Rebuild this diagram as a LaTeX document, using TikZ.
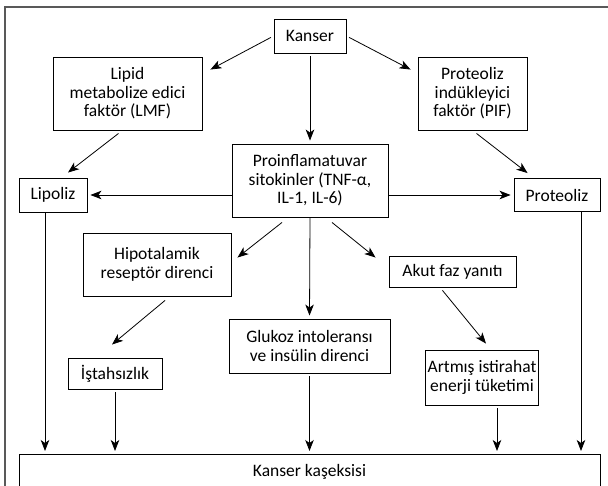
\documentclass[tikz,border=0pt]{standalone}
\usepackage{fontspec}
\setmainfont{Carlito}
\usetikzlibrary{arrows.meta}
\tikzset{>={Stealth[length=11pt,width=8.5pt,inset=3pt]}}
\colorlet{framecol}{black!65}
\tikzstyle{box}=[draw,line width=0.9pt,align=center,inner sep=2pt,font=\fontsize{17.5}{18.5}\selectfont]
\tikzstyle{link}=[->,line width=0.8pt]

\begin{document}
\begin{tikzpicture}[x=1pt,y=-1pt]
  \useasboundingbox (0,0) rectangle (608,486);
  \clip (0,0) rectangle (608,486);

  % outer frame
  \draw[framecol,line width=1.5pt] (5,490) -- (5,7) -- (610,7);

  % top row
  \node[box,minimum width=72pt,minimum height=34pt] (kanser) at (310,36) {Kanser};
  \node[box,minimum width=149pt,minimum height=73pt] (lmf) at (127.5,93.5)
    {Lipid\\metabolize edici\\faktör (LMF)};
  \node[box,minimum width=109pt,minimum height=73pt] (pif) at (472.5,93.5)
    {Proteoliz\\indükleyici\\faktör (PIF)};

  % middle row
  \node[box,minimum width=156pt,minimum height=73pt] (sito) at (310,180.5)
    {Proinflamatuvar\\sitokinler (TNF-α,\\IL-1, IL-6)};
  \node[box,minimum width=68pt,minimum height=34pt] (lipoliz) at (53,195) {Lipoliz};
  \node[box,minimum width=86pt,minimum height=33pt] (proteoliz) at (557,195) {Proteoliz};

  % effects
  \node[box,minimum width=148pt,minimum height=63pt] (hipo) at (157,264.5)
    {Hipotalamik\\reseptör direnci};
  \node[box,minimum width=127pt,minimum height=31pt] (akut) at (452.5,271.5) {Akut faz yanıtı};
  \node[box,minimum width=161pt,minimum height=54pt] (glukoz) at (309.5,346)
    {Glukoz intoleransı\\ve insülin direnci};
  \node[box,minimum width=94pt,minimum height=31pt] (istah) at (115,373.5) {İştahsızlık};
  \node[box,minimum width=108pt,minimum height=55pt] (artmis) at (482,377.5)
    {Artmış istirahat\\enerji tüketimi};

  % bottom box
  \node[box,anchor=north,minimum width=581pt,text height=20pt,text depth=30pt] (kaseksi)
    at (309.5,454) {Kanser kaşeksisi};

  % arrows from Kanser
  \draw[link,shorten <=3pt] (kanser.west) -- ([shift={(8,13)}]lmf.north east);
  \draw[link,shorten <=3pt] (kanser.east) -- ([shift={(-7,13)}]pif.north west);
  \draw[link,shorten <=3pt,shorten >=3pt] (kanser.south) -- (sito.north);

  % to lipolysis and proteolysis
  \draw[link] ([shift={(-9,3)}]lmf.south) -- ([shift={(15,-5)}]lipoliz.north);
  \draw[link] ([shift={(4,3)}]pif.south) -- ([shift={(14,-5)}]proteoliz.north west);
  \draw[link,shorten >=3pt] (sito.west |- lipoliz.east) -- (lipoliz.east);
  \draw[link,shorten >=3pt] (sito.east |- proteoliz.west) -- (proteoliz.west);

  % from cytokines
  \draw[link] ([shift={(-28,5)}]sito.south) -- ([shift={(6,25)}]hipo.north east);
  \draw[link] ([shift={(22,5)}]sito.south) -- ([shift={(-13,2)}]akut.north west);
  \draw[link,shorten >=3pt] (sito.south) -- (glukoz.north);
  \draw[link] ([shift={(8,4)}]hipo.south) -- ([shift={(-3,-13)}]istah.north);
  \draw[link] ([shift={(-10,3)}]akut.south) -- ([shift={(4,-6)}]artmis.north);

  % into cachexia
  \draw[link,shorten >=3pt] ([xshift=-8pt]lipoliz.south) -- ([xshift=-8pt]lipoliz.south |- kaseksi.north);
  \draw[link,shorten <=3pt,shorten >=3pt] (istah.south) -- (istah.south |- kaseksi.north);
  \draw[link,shorten <=3pt,shorten >=3pt] (glukoz.south) -- (glukoz.south |- kaseksi.north);
  \draw[link,shorten <=3pt,shorten >=3pt] ([xshift=15pt]artmis.south) -- ([xshift=15pt]artmis.south |- kaseksi.north);
  \draw[link,shorten >=3pt] ([xshift=24pt]proteoliz.south) -- ([xshift=24pt]proteoliz.south |- kaseksi.north);
\end{tikzpicture}
\end{document}
